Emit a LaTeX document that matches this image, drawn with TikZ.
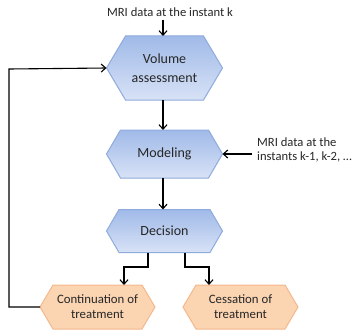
\documentclass[tikz,border=0pt]{standalone}
\usepackage{fontspec}
\setmainfont{Carlito}
\usetikzlibrary{arrows.meta,backgrounds}
\definecolor{bluetop}{RGB}{160,186,232}
\definecolor{bluebot}{RGB}{216,226,246}
\definecolor{blueline}{RGB}{143,170,220}
\definecolor{orfill}{RGB}{251,212,178}
\definecolor{orline}{RGB}{244,184,140}
\definecolor{txt}{RGB}{38,38,38}
\tikzset{
  box/.style={rectangle, inner sep=0pt, outer sep=0pt, align=center, text=txt},
  bluehex/.style={box, minimum width=116pt, font=\fontsize{14}{19.5}\selectfont},
  orhex/.style={box, minimum width=115pt, minimum height=44pt, font=\fontsize{12.8}{15}\selectfont},
  bluefill/.style={draw=blueline, line width=1pt, top color=bluetop, bottom color=bluebot},
  orfillst/.style={draw=orline, line width=1pt, fill=orfill},
  lbl/.style={align=left, text=txt, font=\fontsize{12.6}{14.5}\selectfont, inner sep=0pt},
  conn/.style={line width=1.1pt, -{Straight Barb[length=4.5pt,width=8pt,line width=1.1pt]}}
}
\newcommand{\hexpath}[3]{% name, inset, style
  \path[#3] (#1.west) -- ([xshift=#2pt]#1.north west) -- ([xshift=-#2pt]#1.north east)
    -- (#1.east) -- ([xshift=-#2pt]#1.south east) -- ([xshift=#2pt]#1.south west) -- cycle;}
\begin{document}
\begin{tikzpicture}[x=1pt,y=-1pt]
\useasboundingbox (0,0) rectangle (355,329);
\node[bluehex, minimum height=64pt] (vol) at (164.5,68) {Volume\\assessment};
\node[bluehex, minimum height=48pt] (mod) at (164.5,154) {Modeling};
\node[bluehex, minimum height=43pt] (dec) at (164.5,231) {Decision};
\node[orhex] (cont) at (97.5,307) {Continuation of\\treatment};
\node[orhex] (cess) at (240.5,307) {Cessation of\\treatment};
\begin{pgfonlayer}{background}
\hexpath{vol}{19}{bluefill}
\hexpath{mod}{14}{bluefill}
\hexpath{dec}{12.5}{bluefill}
\hexpath{cont}{13}{orfillst}
\hexpath{cess}{13}{orfillst}
\end{pgfonlayer}
\node[lbl, anchor=center] (in1) at (170,12) {MRI data at the instant k};
\node[lbl, anchor=west] (in2) at (257,150) {MRI data at the\\instants k-1, k-2, \dots};
\coordinate (tin) at (163,20);
\coordinate (rin) at (252,154);
\draw[conn] (tin) -- (tin |- vol.north);
\draw[conn] (vol.south -| 163,0) -- (mod.north -| 163,0);
\draw[conn] (rin) -- (mod.east);
\draw[conn] (mod.south -| 163,0) -- (dec.north -| 163,0);
\draw[conn] (dec.south -| 148,0) -- (148,267) -- (124,267) -- (cont.north -| 124,0);
\draw[conn] (dec.south -| 185,0) -- (185,267) -- (209,267) -- (cess.north -| 209,0);
\draw[conn] (cont.west) -- (9,307) -- (9,69) -- (vol.west);
\end{tikzpicture}
\end{document}
